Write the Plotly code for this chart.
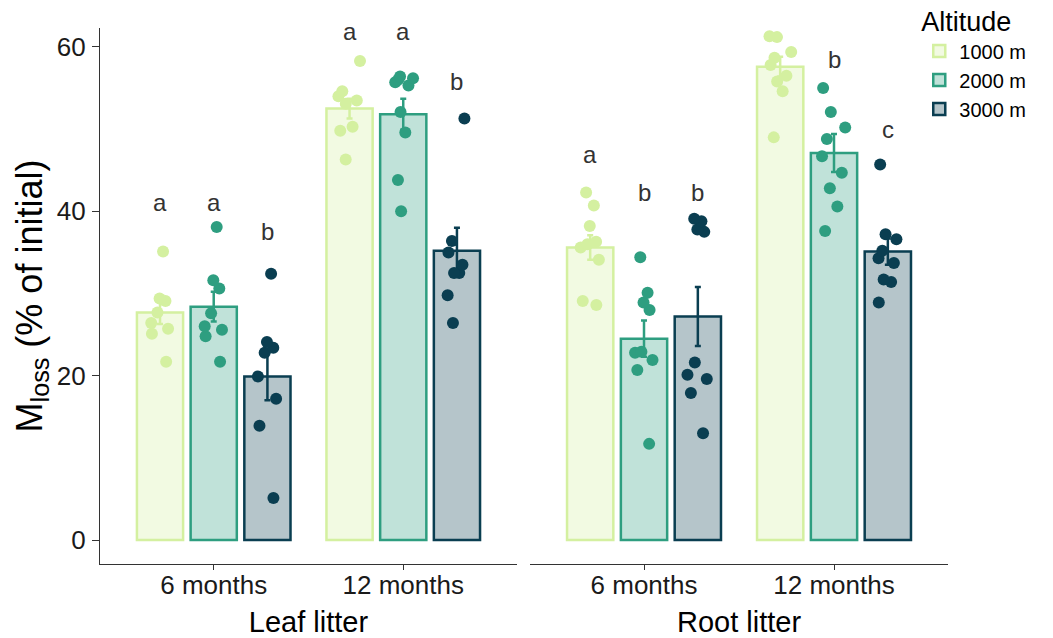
import plotly.graph_objects as go

months = ["6 months", "12 months"]
altitudes = ["1000 m", "2000 m", "3000 m"]
line_colors = ["#d4f0a0", "#2e9e80", "#0a3e51"]
fill_colors = ["rgba(212,240,160,0.3)", "rgba(46,158,128,0.3)", "rgba(10,62,81,0.3)"]

# bar heights (mean) per month, for each altitude
leaf_mean_1000 = [27.7, 52.5]
leaf_mean_2000 = [28.4, 51.8]
leaf_mean_3000 = [19.9, 35.2]
root_mean_1000 = [35.6, 57.6]
root_mean_2000 = [24.5, 47.1]
root_mean_3000 = [27.2, 35.1]

# standard errors
leaf_se_1000 = [1.4, 1.2]
leaf_se_2000 = [1.8, 1.9]
leaf_se_3000 = [2.9, 2.8]
root_se_1000 = [1.5, 1.2]
root_se_2000 = [2.2, 2.3]
root_se_3000 = [3.6, 1.6]

# individual replicates
leaf_6_1000 = [35.1, 29.4, 29.1, 27.7, 26.4, 25.7, 25.1, 21.7]
leaf_6_2000 = [38.1, 31.6, 30.6, 27.6, 26.0, 25.6, 24.8, 21.7]
leaf_6_3000 = [32.4, 24.1, 23.4, 22.8, 19.9, 17.2, 13.9, 5.1]
leaf_12_1000 = [58.3, 54.6, 54.0, 53.5, 53.1, 50.3, 49.8, 46.3]
leaf_12_2000 = [56.4, 56.2, 56.0, 55.7, 55.3, 52.1, 49.6, 43.8, 40.0]
leaf_12_3000 = [51.3, 36.4, 35.0, 33.5, 32.5, 32.5, 29.8, 26.4]
root_6_1000 = [42.3, 40.7, 38.2, 36.3, 36.0, 35.6, 34.1, 29.1, 28.6]
root_6_2000 = [34.4, 30.1, 28.9, 28.0, 22.9, 22.8, 21.9, 20.7, 11.7]
root_6_3000 = [39.1, 38.8, 37.8, 37.5, 21.6, 20.1, 19.6, 17.9, 13.0]
root_12_1000 = [61.3, 61.2, 59.4, 58.7, 57.8, 56.5, 55.8, 54.6, 49.0]
root_12_2000 = [55.0, 52.1, 50.2, 48.8, 46.7, 44.7, 42.8, 40.6, 37.6]
root_12_3000 = [45.7, 37.2, 36.6, 35.2, 34.3, 33.7, 31.7, 31.4, 28.9]

# significance letters (per month, per altitude) and their baseline heights
leaf_letters = [["a", "a", "b"], ["a", "a", "b"]]
leaf_letter_y = [[40.0, 40.0, 36.5], [60.8, 60.8, 54.8]]
root_letters = [["a", "b", "b"], ["a", "b", "c"]]
root_letter_y = [[45.9, 41.2, 41.2], [63.2, 57.4, 48.9]]

BARGAP = 0.15
GROUPGAP = 0.14
FONT = "Liberation Sans, Arial, Helvetica, sans-serif"

panels = [
    dict(xaxis="x", means=[leaf_mean_1000, leaf_mean_2000, leaf_mean_3000],
         ses=[leaf_se_1000, leaf_se_2000, leaf_se_3000],
         pts=[[leaf_6_1000, leaf_12_1000], [leaf_6_2000, leaf_12_2000], [leaf_6_3000, leaf_12_3000]],
         letters=leaf_letters, letter_y=leaf_letter_y),
    dict(xaxis="x2", means=[root_mean_1000, root_mean_2000, root_mean_3000],
         ses=[root_se_1000, root_se_2000, root_se_3000],
         pts=[[root_6_1000, root_12_1000], [root_6_2000, root_12_2000], [root_6_3000, root_12_3000]],
         letters=root_letters, letter_y=root_letter_y),
]

fig = go.Figure()
annotations = []
slot = (1 - BARGAP) / 3

for p_i, p in enumerate(panels):
    for a_i, alt in enumerate(altitudes):
        fig.add_trace(go.Bar(
            x=months, y=p["means"][a_i], name=alt,
            xaxis=p["xaxis"], yaxis="y",
            marker=dict(color=fill_colors[a_i], line=dict(color=line_colors[a_i], width=2.5)),
            error_y=dict(type="data", array=p["ses"][a_i], color=line_colors[a_i],
                         thickness=2.5, width=3),
            showlegend=(p_i == 0), legendgroup=alt, offsetgroup=str(a_i),
        ))
    for a_i, alt in enumerate(altitudes):
        xs, ys = [], []
        for m_i, m in enumerate(months):
            xs += [m] * len(p["pts"][a_i][m_i])
            ys += p["pts"][a_i][m_i]
        fig.add_trace(go.Box(
            x=xs, y=ys, xaxis=p["xaxis"], yaxis="y",
            boxpoints="all", jitter=0.55, pointpos=0,
            fillcolor="rgba(0,0,0,0)", line=dict(width=0, color="rgba(0,0,0,0)"),
            marker=dict(color=line_colors[a_i], size=12, opacity=1),
            showlegend=False, legendgroup=alt, offsetgroup=str(a_i), hoveron="points",
        ))
    for m_i in range(len(months)):
        for a_i in range(len(altitudes)):
            annotations.append(dict(
                x=m_i + (a_i - 1) * slot, y=p["letter_y"][m_i][a_i],
                xref=p["xaxis"], yref="y", text=p["letters"][m_i][a_i],
                showarrow=False, yanchor="bottom", yshift=-7,
                font=dict(size=24, color="#333333", family=FONT),
            ))

axis_common = dict(
    type="category", categoryorder="array", categoryarray=months,
    range=[-0.6, 1.6], showline=True, linecolor="#333333", linewidth=1.2,
    ticks="outside", ticklen=5, tickcolor="#333333", tickwidth=1.2,
    tickfont=dict(size=26, color="#1a1a1a", family=FONT), ticklabelstandoff=-7,
    showgrid=False, zeroline=False, anchor="y", automargin=False,
)

fig.update_layout(
    width=1053, height=638,
    margin=dict(l=100, r=105, t=28, b=74, autoexpand=False),
    plot_bgcolor="white", paper_bgcolor="white",
    barmode="group", bargap=BARGAP, bargroupgap=GROUPGAP,
    boxmode="group", boxgap=BARGAP, boxgroupgap=GROUPGAP,
    font=dict(family=FONT, color="black"),
    xaxis=dict(domain=[0, 0.4917], title=dict(text="Leaf litter", font=dict(size=29), standoff=24), **axis_common),
    xaxis2=dict(domain=[0.5071, 1], title=dict(text="Root litter", font=dict(size=29), standoff=24), **axis_common),
    yaxis=dict(
        range=[-2.92, 62.31], tickvals=[0, 20, 40, 60], anchor="x", automargin=False,
        showline=True, linecolor="#333333", linewidth=1.2,
        ticks="outside", ticklen=7, tickcolor="#333333", tickwidth=1.2,
        tickfont=dict(size=26, color="#1a1a1a", family=FONT), ticklabelstandoff=1,
        showgrid=False, zeroline=False,
        title=dict(text="M<sub>loss</sub> (% of initial)", font=dict(size=36), standoff=3),
    ),
    legend=dict(
        xref="container", yref="paper",
        x=0.873, y=1.059, xanchor="left", yanchor="top",
        title=dict(text="Altitude", font=dict(size=27)),
        font=dict(size=20), bgcolor="rgba(0,0,0,0)", tracegroupgap=0,
    ),
    annotations=annotations,
)

fig.write_html("out.html", config={"displayModeBar": False},
               post_script="document.body.style.margin='0px';")
